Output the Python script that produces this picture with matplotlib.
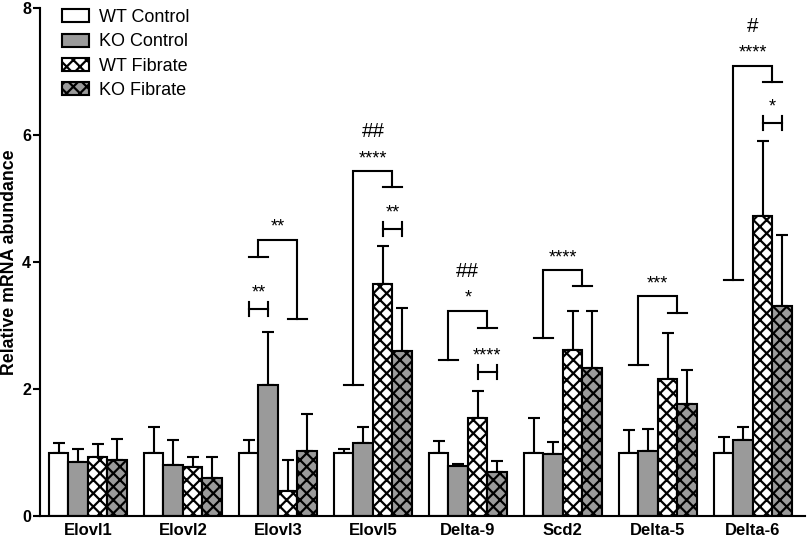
import numpy as np
import matplotlib
matplotlib.use('Agg')
import matplotlib.pyplot as plt

plt.rcParams['font.family'] = ['Liberation Sans', 'DejaVu Sans']
plt.rcParams['hatch.linewidth'] = 2.0

genes = ['Elovl1', 'Elovl2', 'Elovl3', 'Elovl5', 'Delta-9', 'Scd2', 'Delta-5', 'Delta-6']
series = ['WT Control', 'KO Control', 'WT Fibrate', 'KO Fibrate']

# mean values
wt_ctrl = [1.00, 1.00, 1.00, 1.00, 1.00, 1.00, 1.00, 1.00]
ko_ctrl = [0.85, 0.80, 2.06, 1.15, 0.78, 0.98, 1.02, 1.20]
wt_fib = [0.93, 0.77, 0.40, 3.65, 1.55, 2.62, 2.15, 4.73]
ko_fib = [0.88, 0.60, 1.02, 2.60, 0.70, 2.33, 1.77, 3.30]

# top of the error bar (mean + SD)
wt_ctrl_top = [1.15, 1.40, 1.20, 1.05, 1.18, 1.55, 1.35, 1.25]
ko_ctrl_top = [1.05, 1.20, 2.90, 1.40, 0.82, 1.17, 1.37, 1.40]
wt_fib_top = [1.13, 0.93, 0.88, 4.25, 1.97, 3.23, 2.88, 5.90]
ko_fib_top = [1.22, 0.93, 1.60, 3.28, 0.87, 3.23, 2.30, 4.42]

# control vs fibrate brackets: gene index, left end, top, right end, stars, hash
pair_idx = [2, 3, 4, 5, 6, 7]
pair_left = [4.08, 2.06, 2.46, 2.80, 2.38, 3.72]
pair_top = [4.35, 5.43, 3.23, 3.87, 3.46, 7.09]
pair_right = [3.10, 5.18, 2.96, 3.62, 3.20, 6.83]
pair_stars = ['**', '****', '*', '****', '***', '****']
pair_hash = ['', '##', '##', '', '', '#']

# WT vs KO brackets: gene index, first bar, height, stars
h_idx = [2, 3, 4, 7]
h_bar = [0, 2, 2, 2]
h_y = [3.26, 4.52, 2.27, 6.19]
h_stars = ['**', '**', '****', '*']

means = [wt_ctrl, ko_ctrl, wt_fib, ko_fib]
tops = [wt_ctrl_top, ko_ctrl_top, wt_fib_top, ko_fib_top]
colors = ['white', '#9a9a9a', 'white', '#9a9a9a']
hatches = [None, None, 'xx', 'xx']

# dpi 80 so the crosshatch comes out as fine as in the original
fig = plt.figure(figsize=(807/80, 539/80), dpi=80)
ax = fig.add_axes([40/807, 23/539, 765/807, 508/539])

x = np.arange(len(genes))
w = 0.205
lw = 1.9
for k in range(4):
    xs = x + (k - 1.5)*w
    m = np.array(means[k])
    t = np.array(tops[k])
    ax.bar(xs, m, w, color=colors[k], edgecolor='black', linewidth=lw,
           hatch=hatches[k], label=series[k], zorder=2)
    ax.errorbar(xs, m, yerr=[np.zeros_like(m), t - m], fmt='none',
                ecolor='black', elinewidth=lw, capsize=5, capthick=lw, zorder=1)

def star(xc, y, s, size=16.2, frac=0.58):
    ax.annotate(s, (xc, y), xytext=(0, -frac*size), textcoords='offset points',
                ha='center', va='baseline', fontsize=size)

for g, yl, yt, yr, s, hs in zip(pair_idx, pair_left, pair_top, pair_right, pair_stars, pair_hash):
    xl = g - w
    xr = g + w
    ax.plot([xl, xl, xr, xr], [yl, yt, yt, yr], color='black', lw=lw, solid_joinstyle='miter')
    ax.plot([xl - w/2, xl + w/2], [yl, yl], color='black', lw=lw)
    ax.plot([xr - w/2, xr + w/2], [yr, yr], color='black', lw=lw)
    star(g, yt + 0.29, s)
    if hs:
        star(g, yt + 0.65, hs, size=18.5, frac=0.35)

for g, b, y, s in zip(h_idx, h_bar, h_y, h_stars):
    x1 = g + (b - 1.5)*w
    x2 = x1 + w
    ax.plot([x1, x2], [y, y], color='black', lw=lw)
    ax.plot([x1, x1], [y - 0.11, y + 0.11], color='black', lw=lw)
    ax.plot([x2, x2], [y - 0.11, y + 0.11], color='black', lw=lw)
    star((x1 + x2)/2, y + 0.35, s)

ax.set_xlim(-0.505, 7.55)
ax.set_ylim(0, 8)
ax.set_yticks([0, 2, 4, 6, 8])
ax.set_xticks(x)
ax.set_xticklabels(genes, fontsize=15, fontweight='bold')
for lab in ax.get_yticklabels():
    lab.set_fontweight('bold')
    lab.set_fontsize(14.5)
ax.tick_params(axis='x', length=0, pad=6)
ax.tick_params(axis='y', length=6, width=lw, pad=2)
ax.set_ylabel('Relative mRNA abundance', fontsize=16, fontweight='bold', labelpad=4)
for sp in ['top', 'right']:
    ax.spines[sp].set_visible(False)
for sp in ['left', 'bottom']:
    ax.spines[sp].set_linewidth(lw)

leg = ax.legend(loc='upper left', bbox_to_anchor=(55/807, 1 - 2/539), bbox_transform=fig.transFigure,
                frameon=False, fontsize=16.2, handlelength=1.5, handleheight=0.72,
                labelspacing=0.4, handletextpad=0.55, borderaxespad=0)

fig.savefig('out.png', dpi=80)
